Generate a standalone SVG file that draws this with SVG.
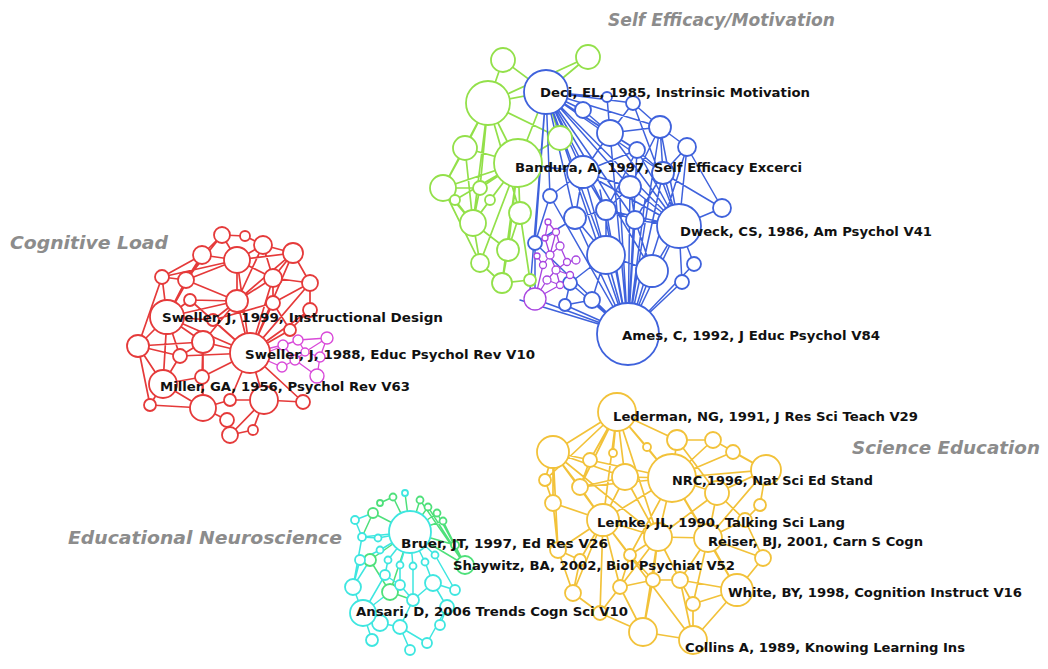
<svg xmlns="http://www.w3.org/2000/svg" width="1048" height="669" viewBox="0 0 1048 669">
<style>
.bg{fill:#fff}
.e{fill:none;stroke-linecap:round}
.eg{stroke:#93e04a;stroke-width:1.7}
.eb{stroke:#3f62dc;stroke-width:1.5}
.ep{stroke:#a845e0;stroke-width:1.3}
.er{stroke:#e53a3a;stroke-width:1.7}
.ek{stroke:#d94ad9;stroke-width:1.3}
.ey{stroke:#f2c23a;stroke-width:1.7}
.ec{stroke:#3ee6e0;stroke-width:1.5}
.en{stroke:#4ee07a;stroke-width:1.5}
circle{fill:#fff;stroke-width:1.8}
.g circle{stroke:#93e04a}
.b circle{stroke:#3f62dc}
.p circle{stroke:#a845e0;stroke-width:1.3}
.r circle{stroke:#e53a3a}
.k circle{stroke:#d94ad9;stroke-width:1.4}
.y circle{stroke:#f2c23a}
.c circle{stroke:#3ee6e0}
.n circle{stroke:#4ee07a}
.lbl{font-family:"DejaVu Sans","Liberation Sans",sans-serif;font-weight:bold;font-size:12px;fill:#111}
.ttl{font-family:"DejaVu Sans","Liberation Sans",sans-serif;font-weight:bold;font-style:italic;font-size:18px;fill:#8c8c8c}
</style>
<rect class="bg" x="0" y="0" width="1048" height="669"/>

<g id="connectors">
<path class="e eg" d="M503,60L488,103 M588,57L488,103 M588,57L546,92 M488,103L546,92 M488,103L518,163 M488,103L465,148 M488,103L443,188 M488,103L480,188 M488,103L520,213 M488,103L560,138 M503,60L546,92 M518,163L465,148 M518,163L443,188 M518,163L480,188 M518,163L560,138 M518,163L473,223 M518,163L490,200 M518,163L520,213 M518,163L508,250 M518,163L480,263 M518,163L502,283 M518,163L546,92 M560,138L546,92 M465,148L443,188 M443,188L480,188 M443,188L455,200 M443,188L473,223 M480,188L473,223 M473,223L480,263 M473,223L508,250 M508,250L502,283 M480,263L502,283 M520,213L508,250 M490,200L473,223 M455,200L473,223 M502,283L530,280 M520,213L530,280 M465,148L473,223 M443,188L480,263 M488,103L473,223 M518,163L455,200"/>
<path class="e eb" d="M546,92L583,110 M546,92L610,133 M546,92L583,172 M546,92L550,196 M546,92L535,243 M546,92L575,218 M546,92L606,210 M546,92L630,187 M546,92L637,150 M546,92L660,127 M546,92L633,103 M546,92L663,173 M546,92L606,255 M546,92L652,271 M546,92L679,226 M546,92L628,333 M546,92L607,97 M546,92L635,220 M546,92L530,290 M628,333L606,255 M628,333L652,271 M628,333L575,218 M628,333L606,210 M628,333L635,220 M628,333L630,187 M628,333L583,172 M628,333L570,283 M628,333L592,300 M628,333L565,305 M628,333L550,196 M628,333L535,243 M628,333L535,299 M628,333L679,226 M628,333L682,282 M628,333L694,264 M628,333L663,173 M628,333L637,150 M628,333L610,133 M628,333L660,127 M628,333L687,147 M628,333L520,300 M628,333L600,190 M628,333L620,200 M628,333L645,200 M628,333L655,210 M679,226L722,208 M679,226L687,147 M679,226L663,173 M679,226L660,127 M679,226L630,187 M679,226L635,220 M679,226L652,271 M679,226L694,264 M679,226L682,282 M679,226L637,150 M679,226L610,133 M679,226L633,103 M679,226L606,210 M679,226L583,172 M583,110L610,133 M610,133L633,103 M610,133L660,127 M633,103L660,127 M660,127L687,147 M610,133L637,150 M637,150L663,173 M583,172L637,150 M583,172L630,187 M583,172L550,196 M583,172L575,218 M583,172L606,210 M630,187L606,210 M630,187L635,220 M575,218L606,210 M606,210L635,220 M575,218L606,255 M606,210L606,255 M635,220L652,271 M606,255L652,271 M606,255L570,283 M606,255L592,300 M575,218L535,243 M550,196L535,243 M687,147L663,173 M663,173L722,208 M687,147L722,208 M660,127L663,173 M535,243L535,299 M570,283L565,305 M592,300L565,305 M583,172L518,163 M610,133L583,172 M607,97L610,133 M660,127L630,187 M637,150L606,210 M663,173L635,220"/>
<path class="e ep" d="M548,222L556,232 M556,232L560,246 M545,238L556,232 M545,238L550,255 M560,246L550,255 M560,246L567,262 M550,255L543,265 M550,255L556,270 M567,262L556,270 M567,262L576,260 M556,270L570,275 M556,270L547,280 M556,270L560,285 M547,280L560,285 M543,265L537,256 M547,280L535,299 M560,285L535,299 M543,265L535,299 M570,275L560,285 M556,232L550,255 M548,222L545,238"/>
<path class="e er" d="M222,235L202,255 M222,235L237,260 M222,235L245,236 M245,236L263,245 M202,255L237,260 M237,260L263,245 M263,245L293,253 M202,255L162,277 M202,255L186,280 M162,277L186,280 M237,260L186,280 M237,260L273,278 M237,260L237,301 M237,260L293,253 M263,245L273,278 M293,253L273,278 M293,253L310,283 M273,278L310,283 M273,278L237,301 M273,278L273,303 M237,301L167,317 M186,280L167,317 M162,277L167,317 M167,317L138,346 M167,317L203,342 M167,317L213,320 M167,317L190,300 M190,300L237,301 M213,320L237,301 M237,301L250,353 M273,303L250,353 M310,283L273,303 M310,283L310,310 M310,310L250,353 M273,303L290,330 M290,330L250,353 M203,342L250,353 M203,342L180,356 M138,346L180,356 M138,346L163,384 M180,356L163,384 M203,342L202,377 M202,377L163,384 M163,384L203,408 M202,377L203,408 M203,408L230,400 M230,400L250,353 M264,400L250,353 M264,400L230,400 M203,408L227,420 M227,420L230,435 M230,435L253,430 M264,400L253,430 M264,400L303,402 M303,402L250,353 M163,384L150,405 M150,405L203,408 M167,317L250,353 M237,260L250,353 M202,255L167,317 M186,280L237,301 M213,320L250,353 M190,300L250,353 M273,278L250,353 M293,253L250,353 M310,283L250,353 M203,342L203,408 M202,377L250,353 M138,346L203,342 M162,277L138,346 M167,317L163,384 M138,346L150,405 M180,356L250,353 M230,435L264,400 M186,280L222,235 M162,277L237,260 M263,245L237,301 M293,253L237,301 M273,303L213,320 M310,310L290,330 M167,317L180,356 M203,342L237,301"/>
<path class="e ek" d="M283,345L298,340 M298,340L327,338 M298,340L305,352 M305,352L320,357 M305,352L295,360 M295,360L282,367 M295,360L317,376 M320,357L317,376 M327,338L320,357 M283,345L250,353 M282,367L250,353 M283,345L295,360 M327,338L305,352 M298,340L268,352"/>
<path class="e ey" d="M617,412L553,452 M617,412L672,478 M617,412L625,477 M617,412L590,460 M617,412L613,453 M617,412L647,447 M617,412L677,440 M617,412L580,487 M617,412L603,520 M617,412L545,480 M553,452L553,503 M553,452L580,487 M553,452L603,520 M553,452L545,480 M553,452L558,550 M553,452L590,460 M553,452L625,477 M672,478L625,477 M672,478L677,440 M672,478L713,440 M672,478L733,452 M672,478L766,470 M672,478L717,493 M672,478L658,537 M672,478L708,538 M672,478L603,520 M672,478L580,487 M672,478L590,460 M672,478L647,447 M603,520L658,537 M603,520L553,503 M603,520L580,487 M603,520L558,550 M603,520L580,560 M603,520L573,593 M603,520L620,587 M603,520L600,613 M658,537L708,538 M658,537L653,580 M658,537L680,580 M658,537L620,587 M658,537L643,632 M708,538L717,493 M708,538L745,520 M708,538L763,558 M708,538L737,590 M708,538L680,580 M708,538L693,604 M708,538L766,470 M737,590L693,640 M737,590L693,604 M737,590L763,558 M737,590L680,580 M643,632L693,640 M643,632L600,613 M643,632L620,587 M643,632L653,580 M693,640L693,604 M693,640L680,580 M766,470L717,493 M766,470L760,505 M766,470L733,452 M766,470L713,440 M573,593L600,613 M573,593L580,560 M573,593L558,550 M625,477L603,520 M625,477L658,537 M625,477L580,487 M717,493L745,520 M717,493L658,537 M713,440L677,440 M553,503L558,550 M558,550L580,560 M620,587L653,580 M653,580L680,580 M680,580L693,604 M600,613L620,587 M745,520L763,558 M760,505L745,520 M630,555L603,520 M630,555L658,537 M630,555L620,587 M630,555L653,580 M677,440L717,493 M590,460L580,487 M553,503L545,480 M672,478L630,555 M617,412L658,537 M553,452L658,537 M603,520L693,640 M672,478L737,590"/>
<path class="e en" d="M410,532L393,497 M410,532L405,493 M410,532L420,500 M410,532L428,507 M410,532L437,513 M410,532L443,521 M420,500L465,565 M428,507L465,565 M437,513L465,565 M443,521L465,565 M410,532L373,513 M410,532L370,560 M410,532L390,592 M410,532L465,565 M393,497L380,503 M373,513L362,537 M370,560L390,592 M390,592L413,600 M410,532L455,545"/>
<path class="e ec" d="M410,532L378,538 M410,532L380,550 M410,532L388,560 M410,532L400,565 M410,532L413,566 M410,532L425,562 M410,532L435,555 M410,532L362,537 M353,587L363,613 M363,613L380,623 M380,623L400,627 M400,627L427,643 M413,600L433,583 M433,583L455,590 M447,607L433,583 M447,607L427,643 M370,560L353,587 M362,537L353,587 M363,613L372,640 M400,627L410,650 M447,607L440,625 M388,560L385,575 M400,565L400,585 M413,566L413,600 M425,562L433,583 M435,555L455,590 M380,550L360,560 M378,538L362,537 M385,575L363,613 M400,585L413,600 M385,575L400,585 M363,613L390,592 M413,600L400,627 M433,583L447,607 M360,560L353,587 M355,520L362,537 M355,520L373,513"/>
</g>

<g id="cluster-self-efficacy-green" class="g">
<circle cx="503" cy="60" r="12"/><circle cx="588" cy="57" r="12"/><circle cx="488" cy="103" r="22"/><circle cx="465" cy="148" r="12"/><circle cx="443" cy="188" r="13"/><circle cx="480" cy="188" r="7"/><circle cx="455" cy="200" r="5"/><circle cx="490" cy="200" r="5"/><circle cx="560" cy="138" r="12"/><circle cx="473" cy="223" r="13"/><circle cx="520" cy="213" r="11"/><circle cx="508" cy="250" r="11"/><circle cx="480" cy="263" r="9"/><circle cx="502" cy="283" r="10"/><circle cx="530" cy="280" r="6"/>
</g>
<g id="cluster-self-efficacy-blue" class="b">
<circle cx="583" cy="110" r="8"/><circle cx="610" cy="133" r="13"/><circle cx="633" cy="103" r="7"/><circle cx="607" cy="97" r="5"/><circle cx="660" cy="127" r="11"/><circle cx="687" cy="147" r="9"/><circle cx="583" cy="172" r="16"/><circle cx="637" cy="150" r="8"/><circle cx="663" cy="173" r="11"/><circle cx="630" cy="187" r="11"/><circle cx="550" cy="196" r="7"/><circle cx="575" cy="218" r="11"/><circle cx="606" cy="210" r="10"/><circle cx="635" cy="220" r="9"/><circle cx="722" cy="208" r="9"/><circle cx="606" cy="255" r="19"/><circle cx="652" cy="271" r="16"/><circle cx="694" cy="264" r="7"/><circle cx="682" cy="282" r="7"/><circle cx="535" cy="243" r="7"/><circle cx="570" cy="283" r="7"/><circle cx="592" cy="300" r="8"/><circle cx="565" cy="305" r="6"/>
</g>
<g id="cluster-self-efficacy-purple" class="p">
<circle cx="548" cy="222" r="3"/><circle cx="556" cy="232" r="3.5"/><circle cx="545" cy="238" r="3"/><circle cx="560" cy="246" r="4"/><circle cx="550" cy="255" r="4"/><circle cx="567" cy="262" r="3.5"/><circle cx="543" cy="265" r="3.5"/><circle cx="556" cy="270" r="4"/><circle cx="570" cy="275" r="3.5"/><circle cx="547" cy="280" r="4"/><circle cx="560" cy="285" r="3.5"/><circle cx="537" cy="256" r="3"/><circle cx="576" cy="260" r="4"/><circle cx="535" cy="299" r="11"/>
</g>
<g id="cluster-cognitive-load" class="r">
<circle cx="222" cy="235" r="8"/><circle cx="245" cy="236" r="5"/><circle cx="202" cy="255" r="9"/><circle cx="237" cy="260" r="13"/><circle cx="263" cy="245" r="9"/><circle cx="293" cy="253" r="10"/><circle cx="162" cy="277" r="7"/><circle cx="186" cy="280" r="8"/><circle cx="273" cy="278" r="9"/><circle cx="237" cy="301" r="11"/><circle cx="310" cy="283" r="8"/><circle cx="310" cy="310" r="7"/><circle cx="273" cy="303" r="7"/><circle cx="213" cy="320" r="6"/><circle cx="190" cy="300" r="6"/><circle cx="290" cy="330" r="6"/><circle cx="203" cy="342" r="11"/><circle cx="138" cy="346" r="11"/><circle cx="180" cy="356" r="7"/><circle cx="202" cy="377" r="7"/><circle cx="264" cy="400" r="14"/><circle cx="203" cy="408" r="13"/><circle cx="230" cy="400" r="6"/><circle cx="227" cy="420" r="7"/><circle cx="230" cy="435" r="8"/><circle cx="253" cy="430" r="5"/><circle cx="303" cy="402" r="7"/><circle cx="150" cy="405" r="6"/>
</g>
<g id="cluster-cognitive-load-pink" class="k">
<circle cx="283" cy="345" r="5"/><circle cx="298" cy="340" r="5"/><circle cx="327" cy="338" r="6"/><circle cx="320" cy="357" r="5"/><circle cx="295" cy="360" r="5"/><circle cx="317" cy="376" r="7"/><circle cx="282" cy="367" r="5"/><circle cx="305" cy="352" r="4"/>
</g>
<g id="cluster-science-education" class="y">
<circle cx="553" cy="452" r="16"/><circle cx="625" cy="477" r="13"/><circle cx="658" cy="537" r="14"/><circle cx="553" cy="503" r="8"/><circle cx="580" cy="487" r="8"/><circle cx="590" cy="460" r="7"/><circle cx="613" cy="453" r="4"/><circle cx="647" cy="447" r="4"/><circle cx="677" cy="440" r="10"/><circle cx="713" cy="440" r="8"/><circle cx="733" cy="452" r="7"/><circle cx="766" cy="470" r="15"/><circle cx="717" cy="493" r="12"/><circle cx="643" cy="632" r="14"/><circle cx="573" cy="593" r="8"/><circle cx="620" cy="587" r="7"/><circle cx="653" cy="580" r="7"/><circle cx="680" cy="580" r="8"/><circle cx="693" cy="604" r="7"/><circle cx="600" cy="613" r="7"/><circle cx="763" cy="558" r="8"/><circle cx="558" cy="550" r="8"/><circle cx="580" cy="560" r="6"/><circle cx="745" cy="520" r="7"/><circle cx="630" cy="555" r="6"/><circle cx="545" cy="480" r="6"/><circle cx="760" cy="505" r="6"/>
</g>
<g id="cluster-neuroscience-green" class="n">
<circle cx="393" cy="497" r="3.5"/><circle cx="420" cy="500" r="3.5"/><circle cx="428" cy="507" r="3.5"/><circle cx="437" cy="513" r="3.5"/><circle cx="443" cy="521" r="3.5"/><circle cx="373" cy="513" r="5"/><circle cx="380" cy="503" r="3"/><circle cx="370" cy="560" r="6"/><circle cx="390" cy="592" r="8"/><circle cx="455" cy="545" r="4"/>
</g>
<g id="cluster-neuroscience-cyan" class="c">
<circle cx="405" cy="493" r="3"/><circle cx="362" cy="537" r="4"/><circle cx="355" cy="520" r="4"/><circle cx="378" cy="538" r="3.5"/><circle cx="380" cy="550" r="3.5"/><circle cx="388" cy="560" r="3.5"/><circle cx="400" cy="565" r="3.5"/><circle cx="413" cy="566" r="3.5"/><circle cx="425" cy="562" r="3.5"/><circle cx="435" cy="555" r="3.5"/><circle cx="353" cy="587" r="8"/><circle cx="380" cy="623" r="8"/><circle cx="400" cy="627" r="7"/><circle cx="427" cy="643" r="5"/><circle cx="433" cy="583" r="8"/><circle cx="447" cy="607" r="7"/><circle cx="413" cy="600" r="6"/><circle cx="455" cy="590" r="5"/><circle cx="360" cy="560" r="5"/><circle cx="372" cy="640" r="6"/><circle cx="410" cy="650" r="5"/><circle cx="440" cy="625" r="5"/><circle cx="385" cy="575" r="5"/><circle cx="400" cy="585" r="5"/>
</g>

<g id="node-bandura" class="g"><circle cx="518" cy="163" r="24"/><text class="lbl" x="515" y="172" textLength="287" lengthAdjust="spacingAndGlyphs">Bandura, A, 1997, Self Efficacy Excerci</text></g>
<g id="node-deci" class="b"><circle cx="546" cy="92" r="22"/><text class="lbl" x="540" y="97" textLength="270" lengthAdjust="spacingAndGlyphs">Deci, EL, 1985, Instrinsic Motivation</text></g>
<g id="node-dweck" class="b"><circle cx="679" cy="226" r="22"/><text class="lbl" x="680" y="236" textLength="252" lengthAdjust="spacingAndGlyphs">Dweck, CS, 1986, Am Psychol V41</text></g>
<g id="node-ames" class="b"><circle cx="628" cy="334" r="31"/><text class="lbl" x="622" y="340" textLength="258" lengthAdjust="spacingAndGlyphs">Ames, C, 1992, J Educ Psychol V84</text></g>
<g id="node-sweller-1999" class="r"><circle cx="167" cy="317" r="17"/><text class="lbl" x="162" y="322" textLength="281" lengthAdjust="spacingAndGlyphs">Sweller, J, 1999, Instructional Design</text></g>
<g id="node-sweller-1988" class="r"><circle cx="250" cy="353" r="20"/><text class="lbl" x="245" y="359" textLength="290" lengthAdjust="spacingAndGlyphs">Sweller, J, 1988, Educ Psychol Rev V10</text></g>
<g id="node-miller" class="r"><circle cx="163" cy="384" r="14"/><text class="lbl" x="160" y="391" textLength="250" lengthAdjust="spacingAndGlyphs">Miller, GA, 1956, Psychol Rev V63</text></g>
<g id="node-lederman" class="y"><circle cx="617" cy="412" r="19"/><text class="lbl" x="613" y="421" textLength="305" lengthAdjust="spacingAndGlyphs">Lederman, NG, 1991, J Res Sci Teach V29</text></g>
<g id="node-nrc" class="y"><circle cx="672" cy="478" r="24"/><text class="lbl" x="672" y="485" textLength="201" lengthAdjust="spacingAndGlyphs">NRC,1996, Nat Sci Ed Stand</text></g>
<g id="node-reiser" class="y"><circle cx="708" cy="538" r="14"/><text class="lbl" x="708" y="546" textLength="215" lengthAdjust="spacingAndGlyphs">Reiser, BJ, 2001, Carn S Cogn</text></g>
<g id="node-lemke" class="y"><circle cx="603" cy="520" r="16"/><text class="lbl" x="597" y="527" textLength="248" lengthAdjust="spacingAndGlyphs">Lemke, JL, 1990, Talking Sci Lang</text></g>
<g id="node-white" class="y"><circle cx="737" cy="590" r="16"/><text class="lbl" x="728" y="597" textLength="294" lengthAdjust="spacingAndGlyphs">White, BY, 1998, Cognition Instruct V16</text></g>
<g id="node-collins" class="y"><circle cx="693" cy="640" r="14"/><text class="lbl" x="685" y="652" textLength="280" lengthAdjust="spacingAndGlyphs">Collins A, 1989, Knowing Learning Ins</text></g>
<g id="node-bruer" class="c"><circle cx="410" cy="532" r="21"/><text class="lbl" x="401" y="548" textLength="207" lengthAdjust="spacingAndGlyphs">Bruer, JT, 1997, Ed Res V26</text></g>
<g id="node-shaywitz" class="n"><circle cx="465" cy="565" r="9"/><text class="lbl" x="453" y="570" textLength="282" lengthAdjust="spacingAndGlyphs">Shaywitz, BA, 2002, Biol Psychiat V52</text></g>
<g id="node-ansari" class="c"><circle cx="363" cy="613" r="13"/><text class="lbl" x="356" y="616" textLength="272" lengthAdjust="spacingAndGlyphs">Ansari, D, 2006 Trends Cogn Sci V10</text></g>

<g id="cluster-titles">
<text class="ttl" x="608" y="26" textLength="227" lengthAdjust="spacingAndGlyphs">Self Efficacy/Motivation</text>
<text class="ttl" x="10" y="249" textLength="158" lengthAdjust="spacingAndGlyphs">Cognitive Load</text>
<text class="ttl" x="852" y="454" textLength="188" lengthAdjust="spacingAndGlyphs">Science Education</text>
<text class="ttl" x="68" y="544" textLength="274" lengthAdjust="spacingAndGlyphs">Educational Neuroscience</text>
</g>
</svg>
